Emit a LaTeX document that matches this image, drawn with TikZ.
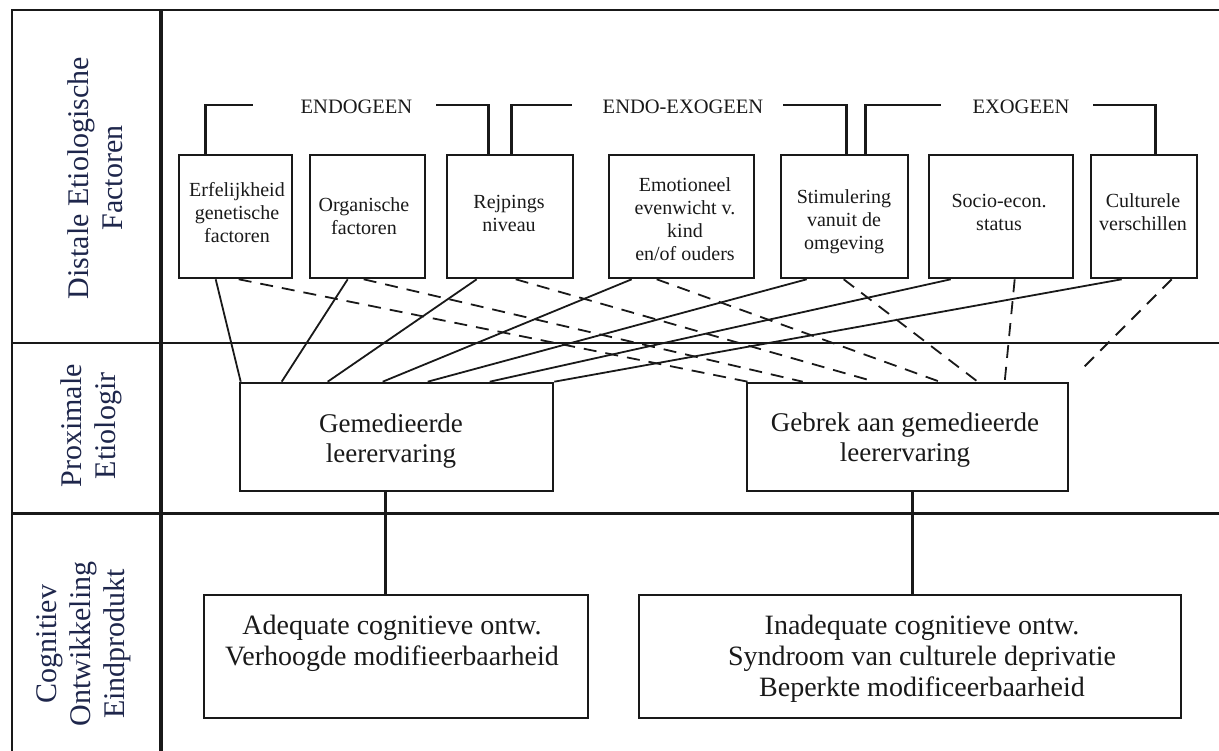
\documentclass[tikz,border=0pt]{standalone}
\usepackage{fontspec}
\setmainfont{Liberation Serif}
\usetikzlibrary{calc}
\definecolor{ink}{RGB}{25,25,25}
\definecolor{lab}{RGB}{30,38,75}
\begin{document}
\begin{tikzpicture}[x=1pt,y=-1pt,
  frame/.style={draw=ink, line width=2.6pt},
  colline/.style={draw=ink, line width=4pt},
  boxn/.style={draw=ink, line width=2.6pt, inner sep=0pt, fill=none},
  brk/.style={draw=ink, line width=2.6pt},
  solidc/.style={draw=ink, line width=1.8pt},
  dashc/.style={draw=ink, line width=1.8pt, dash pattern=on 13pt off 9pt},
  vconn/.style={draw=ink, line width=2.6pt},
  ftxt/.style={font=\fontsize{20}{23}\selectfont, align=center, text=ink, inner sep=0pt},
  gtxt/.style={font=\fontsize{27}{30}\selectfont, align=center, text=ink, inner sep=0pt},
  btxt/.style={font=\fontsize{28}{31}\selectfont, align=center, text=ink, inner sep=0pt},
  headtxt/.style={font=\fontsize{20.5}{23}\selectfont, text=ink, inner sep=0pt},
  coltxt/.style={font=\fontsize{30}{34}\selectfont, align=center, text=lab, inner sep=0pt, rotate=90}
]
\useasboundingbox (0,0) rectangle (1219,751);

% frame and dividers
\draw[frame] (1219,10) -- (12,10) -- (12,751);
\draw[frame] (12,343) -- (1219,343);
\draw[frame] (12,513.5) -- (1219,513.5);
\draw[colline] (161,10) -- (161,751);

% column labels
\node[coltxt] (lab1) at (95,178) {Distale Etiologische\\Factoren};
\node[coltxt] (lab2) at (91,426) {Proximale\\Etiologir};
\node[coltxt] (lab3) at (84,644) {Cognitiev\\Ontwikkeling\\Eindprodukt};

% top boxes
\node[boxn, minimum width=113, minimum height=123] (e1) at (235.5,216.5) {};
\node[boxn, minimum width=115, minimum height=123] (e2) at (367.5,216.5) {};
\node[boxn, minimum width=126, minimum height=123] (e3) at (510,216.5) {};
\node[boxn, minimum width=145, minimum height=123] (e4) at (681.5,216.5) {};
\node[boxn, minimum width=127, minimum height=123] (e5) at (844.5,216.5) {};
\node[boxn, minimum width=144, minimum height=123] (e6) at (1001,216.5) {};
\node[boxn, minimum width=106, minimum height=123] (e7) at (1144,216.5) {};

\node[ftxt] (t1) at (237,213) {Erfelijkheid\\genetische\\factoren};
\node[ftxt] (t2) at (364,216) {Organische\\factoren};
\node[ftxt] (t3) at (509,213) {Rejpings\\niveau};
\node[ftxt] (t4) at (685,219) {Emotioneel\\evenwicht v.\\kind\\en/of ouders};
\node[ftxt] (t5) at (844,222) {Stimulering\\vanuit de\\omgeving};
\node[ftxt] (t6) at (999,212) {Socio-econ.\\status};
\node[ftxt] (t7) at (1143,212) {Culturele\\verschillen};

% group headings
\node[headtxt] (endo) at (356.5,107) {ENDOGEEN};
\node[headtxt] (endoexo) at (683,107) {ENDO-EXOGEEN};
\node[headtxt] (exo) at (1021,107) {EXOGEEN};

\coordinate (h1a) at (253,105);
\coordinate (h1b) at (436,105);
\coordinate (h2a) at (572,105);
\coordinate (h2b) at (783,105);
\coordinate (h3a) at (941,105);
\coordinate (h3b) at (1093,105);

\draw[brk] ($(e1.north west)+(28,0)$) |- (h1a);
\draw[brk] (h1b) -| ($(e3.north west)+(43,0)$);
\draw[brk] ($(e3.north west)+(66,0)$) |- (h2a);
\draw[brk] (h2b) -| ($(e5.north west)+(67,0)$);
\draw[brk] ($(e5.north west)+(86,0)$) |- (h3a);
\draw[brk] (h3b) -| ($(e7.north west)+(66,0)$);

% proximal boxes
\node[boxn, minimum width=313, minimum height=108] (gem) at (396.5,437) {};
\node[boxn, minimum width=321, minimum height=108] (geb) at (907.5,437) {};
\node[gtxt] (gemt) at (391,441) {Gemedieerde\\leerervaring};
\node[gtxt] (gebt) at (905,440) {Gebrek aan gemedieerde\\leerervaring};

% end product boxes
\node[boxn, minimum width=384, minimum height=123] (adeq) at (396,656.5) {};
\node[boxn, minimum width=542, minimum height=123] (inad) at (910,656.5) {};
\node[btxt] (adeqt) at (392,643) {Adequate cognitieve ontw.\\Verhoogde modifieerbaarheid};
\node[btxt] (inadt) at (922,659) {Inadequate cognitieve ontw.\\Syndroom van culturele deprivatie\\Beperkte modificeerbaarheid};

% solid connectors to Gemedieerde leerervaring
\draw[solidc] ($(e1.south west)+(38,0)$) -- ($(gem.north west)+(2,0)$);
\draw[solidc] ($(e2.south west)+(39,0)$) -- ($(gem.north west)+(43,0)$);
\draw[solidc] ($(e3.south west)+(31,0)$) -- ($(gem.north west)+(89,0)$);
\draw[solidc] ($(e4.south west)+(24,0)$) -- ($(gem.north west)+(144,0)$);
\draw[solidc] ($(e5.south west)+(27,0)$) -- ($(gem.north west)+(189,0)$);
\draw[solidc] ($(e6.south west)+(23,0)$) -- ($(gem.north west)+(251,0)$);
\draw[solidc] ($(e7.south west)+(32,0)$) -- (gem.north east);

% dashed connectors to Gebrek aan gemedieerde leerervaring
\coordinate (d7end) at (1079,372);
\draw[dashc] ($(e1.south west)+(61,0)$) -- ($(geb.north west)+(2,0)$);
\draw[dashc] ($(e2.south west)+(55,0)$) -- ($(geb.north west)+(57,0)$);
\draw[dashc] ($(e3.south west)+(70,0)$) -- ($(geb.north west)+(129,0)$);
\draw[dashc] ($(e4.south west)+(49,0)$) -- ($(geb.north west)+(194,0)$);
\draw[dashc] ($(e5.south west)+(64,0)$) -- ($(geb.north west)+(232,0)$);
\draw[dashc] ($(e6.south west)+(87,0)$) -- ($(geb.north west)+(259,0)$);
\draw[dashc] ($(e7.south west)+(82,0)$) -- (d7end);

% vertical connectors
\coordinate (v1) at ($(gem.south west)+(147,0)$);
\coordinate (v2) at ($(geb.south west)+(167,0)$);
\draw[vconn] (v1) -- (v1 |- adeq.north);
\draw[vconn] (v2) -- (v2 |- inad.north);
\end{tikzpicture}
\end{document}
